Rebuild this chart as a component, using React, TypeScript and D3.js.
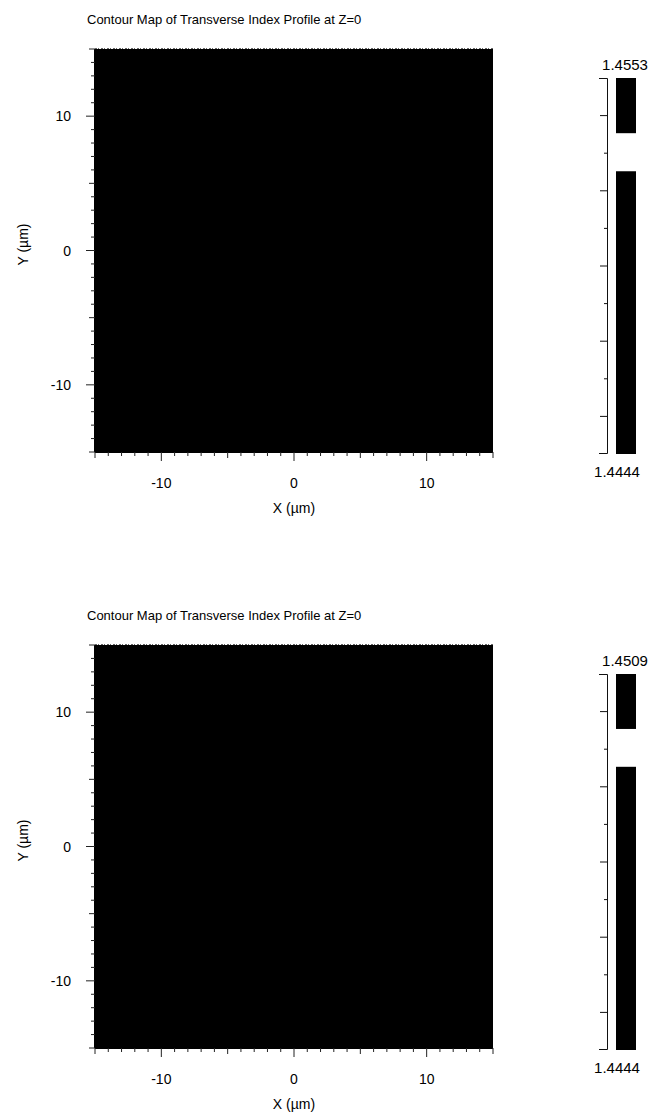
import React from "react";
import * as d3 from "d3";

// Axis extent (µm) and labelled ticks
const xDomain = [-15, 15];
const yDomain = [-15, 15];
const xTickLabels = [-10, 0, 10];
const yTickLabels = [-10, 0, 10];

// One entry per panel
const panelTitles = [
  "Contour Map of Transverse Index Profile at Z=0",
  "Contour Map of Transverse Index Profile at Z=0",
];
// Refractive-index level boundaries shown in each colour bar (bottom to top)
const levelBounds = [
  [1.4444, 1.4526, 1.4537, 1.4553],
  [1.4444, 1.4493, 1.44995, 1.4509],
];
const levelColors = ["#000000", "#ffffff", "#000000"];
// Background (cladding) index filling the transverse window
const fieldIndex = [1.4444, 1.4444];

const FONT = "'Liberation Sans', Arial, Helvetica, sans-serif";

const W = 654;
const H = 1119;
const PANEL_DY = 596;

function levelColor(bounds: number[], v: number) {
  for (let i = 0; i < bounds.length - 1; i++) {
    if (v >= bounds[i] && v <= bounds[i + 1]) return levelColors[i];
  }
  return levelColors[0];
}

function Panel({ idx }: { idx: number }) {
  const top = 49;
  const bottom = 452;
  const left = 95;
  const right = 493;
  const x = d3.scaleLinear().domain(xDomain).range([left, right]);
  const y = d3.scaleLinear().domain(yDomain).range([bottom, top]);

  const minor = d3.range(xDomain[0], xDomain[1] + 1, 1);
  const tickLen = (v: number) => (v % 10 === 0 ? 9 : v % 5 === 0 ? 6 : 4);

  const bounds = levelBounds[idx];
  const cbTop = 78;
  const cbBottom = 454;
  const cbAxisX = 607;
  const cbBarX = 616;
  const cbBarW = 20;
  const c = d3
    .scaleLinear()
    .domain([bounds[0], bounds[bounds.length - 1]])
    .range([cbBottom, cbTop]);
  const cbTicks = d3.range(1, 10).map((k) => ({
    v: bounds[0] + ((bounds[bounds.length - 1] - bounds[0]) * k) / 10,
    long: k % 2 === 1,
  }));

  return (
    <g transform={`translate(0, ${idx * PANEL_DY})`}>
      <text x={87} y={24} fontSize={13} fontFamily={FONT} fill="#000">
        {panelTitles[idx]}
      </text>

      {/* index field */}
      <rect
        x={x(xDomain[0])}
        y={y(yDomain[1])}
        width={x(xDomain[1]) - x(xDomain[0])}
        height={y(yDomain[0]) - y(yDomain[1])}
        fill={levelColor(bounds, fieldIndex[idx])}
      />
      <line
        x1={left}
        x2={right}
        y1={top - 0.5}
        y2={top - 0.5}
        stroke="#666"
        strokeWidth={1}
        strokeDasharray="2 1 1 2"
      />

      {/* x axis */}
      <line x1={left} x2={right} y1={bottom + 0.5} y2={bottom + 0.5} stroke="#000" />
      {minor.map((v) => (
        <line
          key={`xt${v}`}
          x1={x(v)}
          x2={x(v)}
          y1={bottom}
          y2={bottom + tickLen(v)}
          stroke="#222"
          strokeWidth={1}
        />
      ))}
      {xTickLabels.map((v) => (
        <text
          key={`xl${v}`}
          x={x(v)}
          y={bottom + 36}
          fontSize={14}
          fontFamily={FONT}
          textAnchor="middle"
        >
          {v}
        </text>
      ))}
      <text
        x={(left + right) / 2}
        y={bottom + 61}
        fontSize={14}
        fontFamily={FONT}
        textAnchor="middle"
      >
        X (µm)
      </text>

      {/* y axis */}
      <line x1={left - 0.5} x2={left - 0.5} y1={top} y2={bottom} stroke="#000" />
      {minor.map((v) => (
        <line
          key={`yt${v}`}
          x1={left}
          x2={left - tickLen(v)}
          y1={y(v)}
          y2={y(v)}
          stroke="#222"
          strokeWidth={1}
        />
      ))}
      {yTickLabels.map((v) => (
        <text
          key={`yl${v}`}
          x={left - 24}
          y={y(v) + 5}
          fontSize={14}
          fontFamily={FONT}
          textAnchor="end"
        >
          {v}
        </text>
      ))}
      <text
        transform={`translate(28, ${(top + bottom) / 2 - 6}) rotate(-90)`}
        fontSize={14}
        fontFamily={FONT}
        textAnchor="middle"
      >
        Y (µm)
      </text>

      {/* colour bar */}
      {levelColors.map((col, i) => (
        <rect
          key={`cb${i}`}
          x={cbBarX}
          y={c(bounds[i + 1])}
          width={cbBarW}
          height={c(bounds[i]) - c(bounds[i + 1])}
          fill={col}
        />
      ))}
      <path
        d={`M${cbAxisX - 8},${cbTop + 0.5}H${cbAxisX + 0.5}V${cbBottom - 0.5}H${cbAxisX - 8}`}
        fill="none"
        stroke="#111"
        strokeWidth={1}
      />
      {cbTicks.map((t, i) => (
        <line
          key={`ct${i}`}
          x1={cbAxisX}
          x2={cbAxisX - (t.long ? 7 : 3)}
          y1={c(t.v)}
          y2={c(t.v)}
          stroke="#111"
        />
      ))}
      <text
        x={cbBarX + 9}
        y={cbTop - 8}
        fontSize={15}
        fontFamily={FONT}
        textAnchor="middle"
      >
        {d3.format(".4f")(bounds[bounds.length - 1])}
      </text>
      <text
        x={cbBarX + 1}
        y={cbBottom + 23}
        fontSize={15}
        fontFamily={FONT}
        textAnchor="middle"
      >
        {d3.format(".4f")(bounds[0])}
      </text>
    </g>
  );
}

export default function App() {
  return (
    <svg
      width={W}
      height={H}
      viewBox={`0 0 ${W} ${H}`}
      style={{ position: "absolute", left: 0, top: 0, background: "#fff" }}
    >
      <rect width={W} height={H} fill="#fff" />
      {panelTitles.map((_, i) => (
        <Panel key={i} idx={i} />
      ))}
    </svg>
  );
}
